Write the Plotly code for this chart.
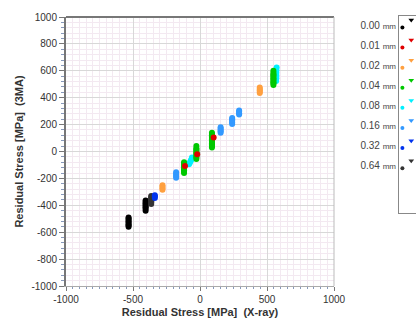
import plotly.graph_objects as go

# ---- data ----
series_names = ["0.00 mm", "0.01 mm", "0.02 mm", "0.04 mm", "0.08 mm", "0.16 mm", "0.32 mm", "0.64 mm"]
series_colors = ["#000000", "#e00000", "#ffa040", "#00c800", "#00f0ff", "#3399ff", "#0033ee", "#333333"]

x_000 = [-533]*8 + [-406]*8
y_000 = [-490, -500, -510, -520, -530, -540, -550, -560,
         -365, -375, -385, -395, -405, -415, -425, -440]
x_001 = [-112, -21, 102]
y_001 = [-107, -21, 105]
x_002 = [-280]*4 + [446]*5
y_002 = [-250, -262, -274, -285, 435, 445, 455, 465, 475]
x_004 = [-119]*9 + [-27]*10 + [89]*12 + [548]*11
y_004 = [-80, -90, -100, -110, -120, -130, -140, -150, -160,
         -55, -45, -35, -25, -15, -5, 5, 15, 25, 40,
         30, 40, 50, 60, 70, 80, 90, 100, 110, 120, 130, 140,
         495, 505, 515, 525, 535, 545, 555, 565, 575, 585, 600]
x_008 = [-82, -77, -72, -67, -62, -60, 568, 570, 570, 570, 570, 572]
y_008 = [-95, -85, -75, -65, -55, -45, 525, 545, 565, 585, 605, 625]
x_016 = [-178]*5 + [154]*5 + [240]*5 + [292]*4
y_016 = [-155, -165, -175, -185, -195,
         140, 150, 160, 170, 180,
         205, 215, 228, 240, 250,
         275, 285, 295, 305]
x_032 = [-337, -337, -337]
y_032 = [-325, -335, -345]
x_064 = [-364]*7
y_064 = [-330, -340, -350, -360, -370, -380, -390]

series_x = [x_000, x_001, x_002, x_004, x_008, x_016, x_032, x_064]
series_y = [y_000, y_001, y_002, y_004, y_008, y_016, y_032, y_064]
draw_order = [0, 7, 6, 2, 5, 4, 3, 1]

x_title = "Residual Stress [MPa]  (X-ray)"
y_title = "Residual Stress [MPa]  (3MA)"

fig = go.Figure()
for i in draw_order:
    fig.add_trace(go.Scatter(
        x=series_x[i], y=series_y[i], mode="markers", name=series_names[i],
        marker=dict(color=series_colors[i], size=6, line=dict(width=0)),
        xaxis="x", yaxis="y", showlegend=False, hoverinfo="x+y"))

# legend drawn on a secondary axis
idx = list(range(len(series_names)))
fig.add_trace(go.Scatter(
    x=[0.2]*len(idx), y=[i + 0.12 for i in idx], mode="markers",
    marker=dict(color=series_colors, size=4), xaxis="x2", yaxis="y2",
    showlegend=False, hoverinfo="skip"))
fig.add_trace(go.Scatter(
    x=[0.72]*len(idx), y=[i - 0.25 for i in idx], mode="markers",
    marker=dict(color=series_colors, size=5, symbol="triangle-down"), xaxis="x2", yaxis="y2",
    showlegend=False, hoverinfo="skip"))

legend_text = []
for n in series_names:
    num, unit = n.split(" ")
    legend_text.append(f"{num} <span style='font-size:8px'>{unit}</span>")

W, H = 416, 323
ml, mr, mt, mb = 66, 0, 16, 37
pw = W - ml - mr
ph = H - mt - mb
main_right = 334
top_main = 17

fig.update_layout(
    width=W, height=H,
    margin=dict(l=ml, r=mr, t=mt, b=mb, autoexpand=False),
    paper_bgcolor="white", plot_bgcolor="white",
    font=dict(family="Liberation Sans, Arial, sans-serif", size=10, color="#333333"),
    xaxis=dict(
        domain=[0, (main_right - ml) / pw], range=[-1000, 1000],
        tickvals=[-1000, -500, 0, 500, 1000], ticktext=["-1000", "-500", "0", "500", "1000"],
        showgrid=True, gridcolor="#d8d8d8", gridwidth=1,
        minor=dict(dtick=50, showgrid=True, gridcolor="#f3e9f1", ticks="outside",
                   ticklen=2, tickcolor="#8899bb"),
        ticks="outside", ticklen=4, tickcolor="#777777",
        showline=True, linecolor="#aaaaaa", linewidth=1, mirror=False,
        zeroline=False,
        title=dict(text=f"<b>{x_title}</b>", font=dict(size=11, color="#333333"), standoff=4),
        tickfont=dict(size=10, color="#333333"),
    ),
    yaxis=dict(
        domain=[0, (H - mb - top_main) / ph], range=[-1000, 1000],
        tickvals=list(range(-1000, 1001, 200)),
        ticktext=[str(v) for v in range(-1000, 1001, 200)],
        showgrid=True, gridcolor="#d8d8d8", gridwidth=1,
        minor=dict(dtick=40, showgrid=True, gridcolor="#f3e9f1", ticks="outside",
                   ticklen=3, tickcolor="#8899bb"),
        ticks="outside", ticklen=5, tickcolor="#777777",
        showline=True, linecolor="#777777", linewidth=2,
        zeroline=False,
        title=dict(text=f"<b>{y_title}</b>", font=dict(size=11, color="#333333"), standoff=6),
        tickfont=dict(size=10, color="#333333"),
    ),
    xaxis2=dict(
        domain=[(399 - ml) / pw, 1.0], range=[0, 1], anchor="y2",
        showgrid=False, zeroline=False, showticklabels=False, ticks="",
        showline=True, linecolor="#888888", linewidth=1, mirror=True,
    ),
    yaxis2=dict(
        domain=[(H - mb - 213) / ph, 1.0], range=[9.35, -0.45], anchor="x2",
        tickvals=idx, ticktext=legend_text, ticks="",
        showgrid=False, zeroline=False,
        showline=True, linecolor="#888888", linewidth=1,
        tickfont=dict(size=10, color="#444444"),
    ),
)

# top frame line of main plot (darker)
fig.add_shape(type="line", xref="x domain", yref="y domain", x0=0, x1=1, y0=1, y1=1,
              line=dict(color="#777777", width=2))
fig.add_shape(type="line", xref="x domain", yref="y domain", x0=1, x1=1, y0=0, y1=1,
              line=dict(color="#bbbbbb", width=1))

fig.write_html("out.html", config={"displayModeBar": False},
               post_script="document.body.style.margin='0px';document.body.style.overflow='hidden';")
